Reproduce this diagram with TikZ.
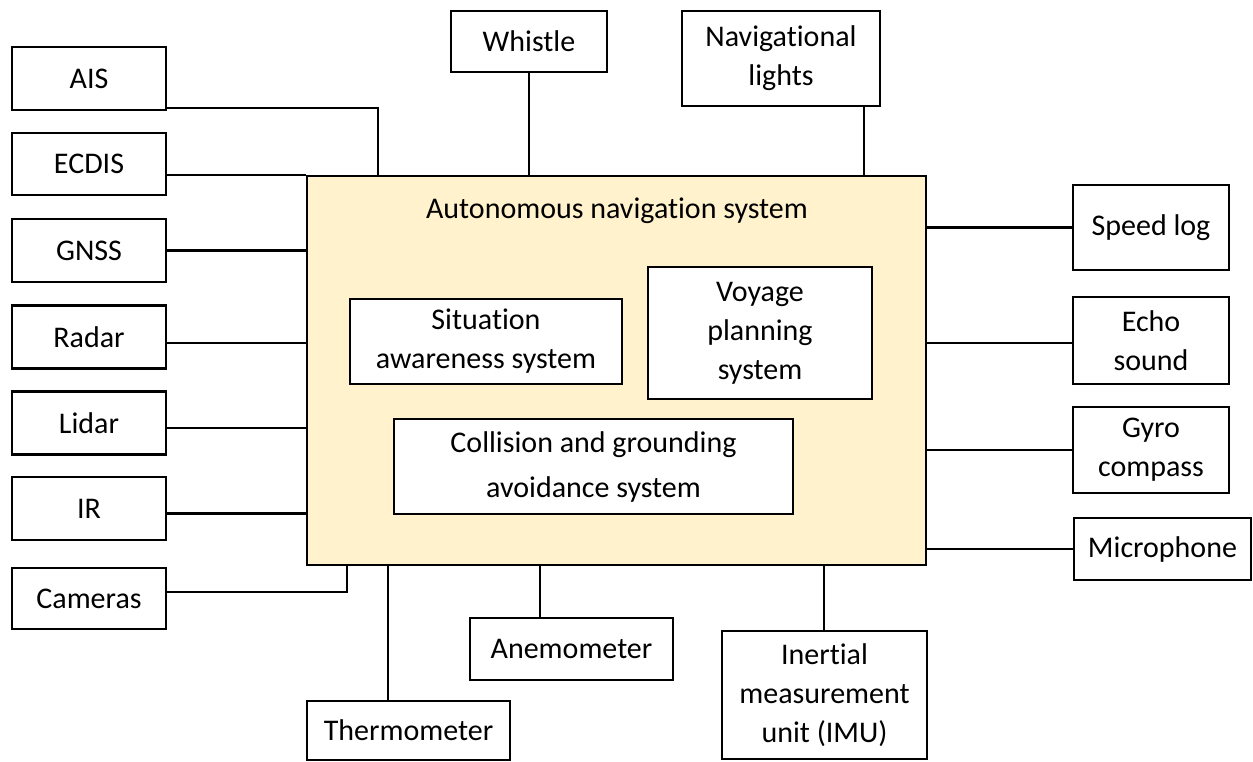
\documentclass[tikz,border=0pt]{standalone}
\usepackage{fontspec}
\setmainfont{Carlito}[Ligatures={NoCommon}]
\definecolor{corefill}{HTML}{FFF2CC}
\tikzset{
  blk/.style={draw=black, line width=2.2pt, fill=white, rectangle, inner sep=0pt,
    align=center, font=\fontsize{30}{39}\selectfont},
  core/.style={blk, fill=corefill},
  wire/.style={draw=black, line width=2.2pt}
}
\begin{document}
\begin{tikzpicture}[x=1pt,y=-1pt]
\useasboundingbox (0,0) rectangle (1253,762);

% central block
\node[core, minimum width=619pt, minimum height=389pt] (main) at (616.5,370.5) {};
\node[font=\fontsize{30}{39}\selectfont] (title) at (617,211) {Autonomous navigation system};
\node[blk, minimum width=272pt, minimum height=85pt] (sit) at (486,341.5) {Situation\\awareness system};
\node[blk, minimum width=224pt, minimum height=132pt] (voy) at (760,333) {Voyage\\planning\\system};
\node[blk, minimum width=399pt, minimum height=95pt, font=\fontsize{30}{45}\selectfont] (col) at (593.5,466.5) {Collision and grounding\\avoidance system};

% left column
\node[blk, minimum width=154pt, minimum height=63pt] (ais) at (89,78.5) {AIS};
\node[blk, minimum width=154pt, minimum height=62pt] (ecdis) at (89,164) {ECDIS};
\node[blk, minimum width=154pt, minimum height=63pt] (gnss) at (89,250.5) {GNSS};
\node[blk, minimum width=154pt, minimum height=63pt] (radar) at (89,337) {Radar};
\node[blk, minimum width=154pt, minimum height=63pt] (lidar) at (89,423) {Lidar};
\node[blk, minimum width=154pt, minimum height=63pt] (ir) at (89,508.5) {IR};
\node[blk, minimum width=154pt, minimum height=61pt] (cam) at (89,598.5) {Cameras};

% top row
\node[blk, minimum width=156pt, minimum height=61pt] (whistle) at (529,41.5) {Whistle};
\node[blk, minimum width=198pt, minimum height=95pt] (navl) at (781,58.5) {Navigational\\lights};

% right column
\node[blk, minimum width=156pt, minimum height=85pt] (speed) at (1151,227.5) {Speed log};
\node[blk, minimum width=156pt, minimum height=87pt] (echo) at (1151,340.5) {Echo\\sound};
\node[blk, minimum width=156pt, minimum height=86pt] (gyro) at (1151,450) {Gyro\\compass};
\node[blk, minimum width=177pt, minimum height=62pt] (mic) at (1162.5,549) {Microphone};

% bottom row
\node[blk, minimum width=203pt, minimum height=59pt] (thermo) at (408.5,730.5) {Thermometer};
\node[blk, minimum width=203pt, minimum height=62pt] (anemo) at (571.5,649) {Anemometer};
\node[blk, minimum width=205pt, minimum height=128pt] (imu) at (824.5,695) {Inertial\\measurement\\unit (IMU)};

% connectors, left
\draw[wire] ([yshift=-29.5pt]ais.east) -| ([xshift=72pt]main.north west);
\draw[wire] ([yshift=-11pt]ecdis.east) -- ([yshift=-11pt]ecdis.east -| main.west);
\draw[wire] (gnss.east) -- (gnss.east -| main.west);
\draw[wire] ([yshift=-6pt]radar.east) -- ([yshift=-6pt]radar.east -| main.west);
\draw[wire] ([yshift=-5pt]lidar.east) -- ([yshift=-5pt]lidar.east -| main.west);
\draw[wire] ([yshift=-5pt]ir.east) -- ([yshift=-5pt]ir.east -| main.west);
\draw[wire] ([yshift=6.5pt]cam.east) -| ([xshift=41pt]main.south west);

% connectors, top
\draw[wire] (whistle.south) -- (whistle.south |- main.north);
\draw[wire] ([xshift=83pt]navl.south) -- ([xshift=83pt]navl.south |- main.north);

% connectors, right
\draw[wire] (speed.west) -- (speed.west -| main.east);
\draw[wire] ([yshift=-2.5pt]echo.west) -- ([yshift=-2.5pt]echo.west -| main.east);
\draw[wire] (gyro.west) -- (gyro.west -| main.east);
\draw[wire] (mic.west) -- (mic.west -| main.east);

% connectors, bottom
\draw[wire] ([xshift=-20.5pt]thermo.north) -- ([xshift=-20.5pt]thermo.north |- main.south);
\draw[wire] ([xshift=-31.5pt]anemo.north) -- ([xshift=-31.5pt]anemo.north |- main.south);
\draw[wire] ([xshift=-0.5pt]imu.north) -- ([xshift=-0.5pt]imu.north |- main.south);
\end{tikzpicture}
\end{document}
